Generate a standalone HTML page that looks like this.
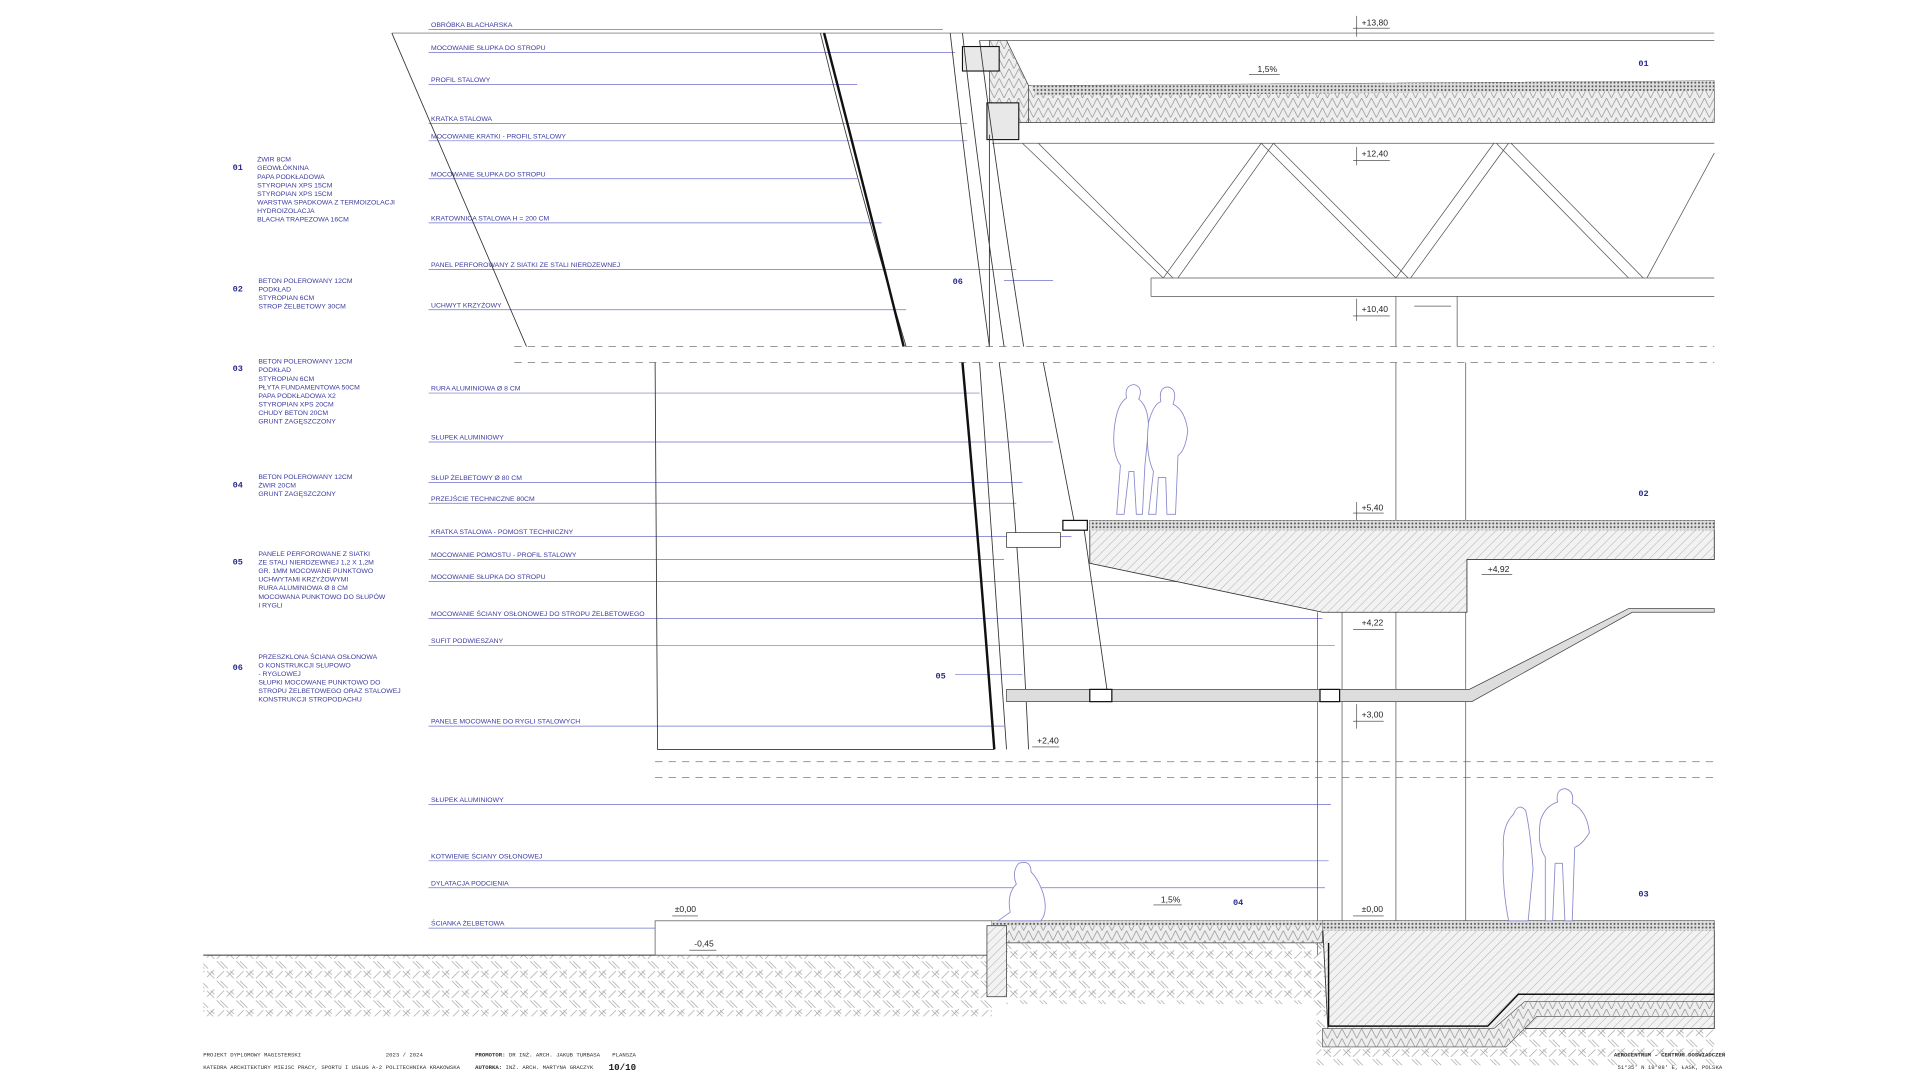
<!DOCTYPE html>
<html><head><meta charset="utf-8"><style>
html,body{margin:0;padding:0;background:#fff;width:1920px;height:1080px;overflow:hidden}
svg{display:block}
.lb{font-family:"Liberation Sans",sans-serif;font-size:5.6px;fill:#3a3aa0}
.num{font-family:"Liberation Mono",monospace;font-size:7px;font-weight:bold;fill:#2a2a90}
.dim{font-family:"Liberation Sans",sans-serif;font-size:7px;fill:#222}
.ft{font-family:"Liberation Mono",monospace;font-size:4.6px;fill:#333}
</style></head><body>
<svg width="1920" height="1080" viewBox="0 0 1568 882" xmlns="http://www.w3.org/2000/svg">
<defs>
<pattern id="hat" width="5" height="5" patternUnits="userSpaceOnUse" patternTransform="rotate(45)"><rect width="5" height="5" fill="#f2f2f2"/><line x1="0" y1="0" x2="0" y2="5" stroke="#888" stroke-width="0.5"/></pattern>
<pattern id="gnd" width="16" height="16" patternUnits="userSpaceOnUse"><path d="M1 1L7 7M4 1L10 7M9 9L15 15M12 9L15 12M9 14L15 8M1 15L7 9" stroke="#999" stroke-width="0.45" fill="none"/></pattern>
<pattern id="ins" width="8" height="8" patternUnits="userSpaceOnUse"><rect width="8" height="8" fill="#eee"/><path d="M0 0L4 8L8 0" stroke="#888" stroke-width="0.5" fill="none"/></pattern>
<pattern id="grv" width="3" height="3" patternUnits="userSpaceOnUse"><rect width="3" height="3" fill="#ddd"/><circle cx="1.5" cy="1.5" r="0.8" fill="#555"/></pattern>
</defs>
<g stroke="#7070c8" stroke-width="0.6" fill="none">
<path d="M350 24H770M350 43H780M350 69H700M350 101H790M350 115H790M350 146H700M350 182H720M350 220H830M350 253H740M350 321H800M350 361H860M350 394H835M350 411H830M350 438H875M350 457H820M350 475H1085M350 505H1080M350 527H1090M350 593H820M350 657H1087M350 703H1085M350 725H1082M350 758H1078"/>
<path d="M820 229H860M780 551H835"/>
</g>
<g class="lb">
<text x="352" y="22">OBRÓBKA BLACHARSKA</text><text x="352" y="41">MOCOWANIE SŁUPKA DO STROPU</text><text x="352" y="67">PROFIL STALOWY</text><text x="352" y="99">KRATKA STALOWA</text><text x="352" y="113">MOCOWANIE KRATKI - PROFIL STALOWY</text><text x="352" y="144">MOCOWANIE SŁUPKA DO STROPU</text><text x="352" y="180">KRATOWNICA STALOWA H = 200 CM</text><text x="352" y="218">PANEL PERFOROWANY Z SIATKI ZE STALI NIERDZEWNEJ</text><text x="352" y="251">UCHWYT KRZYŻOWY</text><text x="352" y="319">RURA ALUMINIOWA Ø 8 CM</text><text x="352" y="359">SŁUPEK ALUMINIOWY</text><text x="352" y="392">SŁUP ŻELBETOWY  Ø 80 CM</text><text x="352" y="409">PRZEJŚCIE TECHNICZNE 80CM</text><text x="352" y="436">KRATKA STALOWA - POMOST TECHNICZNY</text><text x="352" y="455">MOCOWANIE POMOSTU - PROFIL STALOWY</text><text x="352" y="473">MOCOWANIE SŁUPKA DO STROPU</text><text x="352" y="503">MOCOWANIE ŚCIANY OSŁONOWEJ DO STROPU ŻELBETOWEGO</text><text x="352" y="525">SUFIT PODWIESZANY</text><text x="352" y="591">PANELE MOCOWANE DO RYGLI STALOWYCH</text><text x="352" y="655">SŁUPEK ALUMINIOWY</text><text x="352" y="701">KOTWIENIE ŚCIANY OSŁONOWEJ</text><text x="352" y="723">DYLATACJA PODCIENIA</text><text x="352" y="756">ŚCIANKA ŻELBETOWA</text>
</g>
<g class="num"><text x="190" y="139">01</text><text x="190" y="238">02</text><text x="190" y="303">03</text><text x="190" y="398">04</text><text x="190" y="461">05</text><text x="190" y="547">06</text>
<text x="1338" y="54">01</text><text x="1338" y="405">02</text><text x="1338" y="732">03</text><text x="1007" y="739">04</text><text x="764" y="554">05</text><text x="778" y="232">06</text></g>
<g class="lb">
<text x="210" y="132">ŻWIR 8CM</text><text x="210" y="139">GEOWŁÓKNINA</text><text x="210" y="146">PAPA PODKŁADOWA</text><text x="210" y="153">STYROPIAN XPS      15CM</text><text x="210" y="160">STYROPIAN XPS      15CM</text><text x="210" y="167">WARSTWA SPADKOWA Z TERMOIZOLACJI</text><text x="210" y="174">HYDROIZOLACJA</text><text x="210" y="181">BLACHA TRAPEZOWA      16CM</text>
<text x="211" y="231">BETON POLEROWANY      12CM</text><text x="211" y="238">PODKŁAD</text><text x="211" y="245">STYROPIAN      6CM</text><text x="211" y="252">STROP ŻELBETOWY    30CM</text>
<text x="211" y="297">BETON POLEROWANY      12CM</text><text x="211" y="304">PODKŁAD</text><text x="211" y="311">STYROPIAN      6CM</text><text x="211" y="318">PŁYTA FUNDAMENTOWA 50CM</text><text x="211" y="325">PAPA PODKŁADOWA X2</text><text x="211" y="332">STYROPIAN XPS      20CM</text><text x="211" y="339">CHUDY BETON      20CM</text><text x="211" y="346">GRUNT ZAGĘSZCZONY</text>
<text x="211" y="391">BETON POLEROWANY      12CM</text><text x="211" y="398">ŻWIR    20CM</text><text x="211" y="405">GRUNT ZAGĘSZCZONY</text>
<text x="211" y="454">PANELE PERFOROWANE Z SIATKI</text><text x="211" y="461">ZE STALI NIERDZEWNEJ   1,2 X 1,2M</text><text x="211" y="468">GR. 1MM MOCOWANE PUNKTOWO</text><text x="211" y="475">UCHWYTAMI KRZYŻOWYMI</text><text x="211" y="482">RURA ALUMINIOWA Ø 8 CM</text><text x="211" y="489">MOCOWANA PUNKTOWO DO SŁUPÓW</text><text x="211" y="496">I RYGLI</text>
<text x="211" y="538">PRZESZKLONA ŚCIANA OSŁONOWA</text><text x="211" y="545">O KONSTRUKCJI SŁUPOWO</text><text x="211" y="552">- RYGLOWEJ</text><text x="211" y="559">SŁUPKI MOCOWANE PUNKTOWO DO</text><text x="211" y="566">STROPU ŻELBETOWEGO ORAZ STALOWEJ</text><text x="211" y="573">KONSTRUKCJI STROPODACHU</text>
</g>
<g stroke="#999" stroke-width="0.8" stroke-dasharray="6,5"><path d="M420 283H1400M420 296H1400M535 622H1400M535 635H1400"/></g>
<g stroke="#555" stroke-width="0.6" fill="none">
<path d="M320 27H1400M800 33H1400"/>
<path d="M810 100H1400M810 117H1400M940 227H1400M940 242H1400M940 227V242"/>
<path d="M835 117L950 227M848 117L958 227M1030 117L950 227M1040 117L962 227M1030 117L1140 227M1040 117L1150 227M1220 117L1140 227M1232 117L1152 227M1222 117L1330 227M1234 117L1342 227M1400 125L1345 227"/>
</g>
<path d="M840 70L1400 66V100H840Z" fill="url(#ins)" stroke="#444" stroke-width="0.5"/>
<path d="M842 70L1400 66V74L846 78Z" fill="url(#grv)"/>
<path d="M808 33H822L840 70V100H808Z" fill="url(#ins)" stroke="#444" stroke-width="0.6"/>
<rect x="786" y="38" width="30" height="20" fill="#e8e8e8" stroke="#111" stroke-width="0.9"/>
<rect x="806" y="84" width="26" height="30" fill="#e8e8e8" stroke="#111" stroke-width="0.9"/>
<g stroke="#333" stroke-width="0.7" fill="none">
<path d="M320 27L430 283M670 27Q700 150 740 283M776 27Q790 150 808 283M786 27Q800 150 820 283M800 33Q815 150 836 283M808 110V283"/>
</g>
<path d="M673 27Q705 150 738 283" stroke="#111" stroke-width="2" fill="none"/>
<g stroke="#333" stroke-width="0.7" fill="none">
<path d="M535 296L537 612H812M800 296L822 612M816 296Q830 400 840 612M852 296L878 430M885 430L905 570"/>
</g>
<path d="M786 296Q800 450 812 612" stroke="#111" stroke-width="2" fill="none"/>
<g stroke="#555" stroke-width="0.6" fill="none">
<path d="M1140 242V283M1190 242V283M1155 250H1185M1076 500V780M1096 500V780M1140 296V780M1197 296V780M1140 457V622M1197 457V622"/>
</g>
<path d="M890 425H1400V457H1198V500H1080L890 460Z" fill="url(#hat)" stroke="#333" stroke-width="0.7"/>
<path d="M890 425H1400V433H890Z" fill="url(#grv)"/>
<rect x="868" y="425" width="20" height="8" fill="#fff" stroke="#111"/>
<rect x="822" y="435" width="44" height="12" fill="#fff" stroke="#333" stroke-width="0.6"/>
<path d="M822 563H1200L1330 497H1400V500H1333L1202 573H822Z" fill="#ddd" stroke="#444" stroke-width="0.6"/>
<rect x="890" y="563" width="18" height="10" fill="#fff" stroke="#111"/>
<rect x="1078" y="563" width="16" height="10" fill="#fff" stroke="#111"/>
<path d="M166 780H810V830H166Z" fill="url(#gnd)"/>
<path d="M166 780H810" stroke="#333" stroke-width="0.8"/>
<rect x="535" y="752" width="275" height="28" fill="#fff" stroke="#555" stroke-width="0.6"/>
<rect x="810" y="752" width="270" height="18" fill="url(#ins)" stroke="#444" stroke-width="0.6"/>
<rect x="810" y="752" width="270" height="4" fill="url(#grv)"/>
<rect x="806" y="756" width="16" height="58" fill="url(#hat)" stroke="#333" stroke-width="0.6"/>
<rect x="822" y="770" width="258" height="50" fill="url(#gnd)"/>
<path d="M1075 770V870H1400V780Z" fill="url(#gnd)"/>
<path d="M1080 752H1400V840H1240L1220 852H1085Z" fill="url(#hat)" stroke="#333" stroke-width="0.7"/>
<path d="M1080 752H1400V760H1080Z" fill="url(#grv)"/>
<path d="M1085 770V838H1215L1240 812H1400" stroke="#111" stroke-width="1.2" fill="none"/>
<path d="M1080 840H1220L1245 818H1400V830H1255L1230 855H1080Z" fill="url(#ins)" stroke="#444" stroke-width="0.5"/>
<g stroke="#8888cc" stroke-width="0.7" fill="#fff">
<path d="M912 420L915 380Q908 370 910 350Q912 330 920 325Q918 315 926 314Q934 316 930 326Q938 332 938 350L935 380L933 420L928 420L926 385L922 385L918 420Z"/>
<path d="M938 420L942 385Q935 370 938 345Q942 330 948 328Q946 316 954 316Q962 318 958 330Q968 335 970 352Q968 368 962 372L960 420L953 420L952 390L946 390L944 420Z"/>
<path d="M815 752L825 745Q822 730 830 722Q826 712 832 705Q842 702 842 712Q848 718 852 730Q856 745 850 752Z"/>
<path d="M1232 752Q1226 720 1228 695Q1226 675 1236 665Q1240 655 1246 662Q1250 680 1252 710L1248 752Z"/>
<path d="M1262 752L1262 700Q1255 690 1258 670Q1262 658 1272 655Q1270 645 1278 644Q1286 646 1284 656Q1296 662 1298 680Q1292 690 1286 692L1284 752L1278 752L1276 705L1270 705L1268 752Z"/>
</g>
<g class="dim"><text x="1112" y="21">+13,80</text><text x="1112" y="128">+12,40</text><text x="1112" y="255">+10,40</text><text x="1112" y="417">+5,40</text><text x="1215" y="467">+4,92</text><text x="1112" y="511">+4,22</text><text x="1112" y="586">+3,00</text><text x="847" y="607">+2,40</text><text x="551" y="745">±0,00</text><text x="567" y="773">-0,45</text><text x="1112" y="745">±0,00</text><text x="1027" y="59">1,5%</text><text x="948" y="737">1,5%</text></g>
<g stroke="#333" stroke-width="0.5" fill="none"><path d="M1105 23H1135M1108 13V30M1105 131H1135M1108 120V135M1105 258H1135M1108 244V262M1105 419H1130M1108 410V425M1105 514H1130M1105 589H1130M1108 575V595M843 610H865M1105 748H1130M549 748H570M563 776H585M1210 469H1235M1020 61H1045M942 739H965"/></g>
<g class="ft"><text x="166" y="863">PROJEKT DYPLOMOWY MAGISTERSKI</text><text x="166" y="873">KATEDRA ARCHITEKTURY MIEJSC PRACY, SPORTU I USŁUG A-2</text><text x="315" y="863">2023 / 2024</text><text x="315" y="873">POLITECHNIKA KRAKOWSKA</text><text x="388" y="863"><tspan font-weight="bold">PROMOTOR:</tspan> DR INŻ. ARCH. JAKUB TURBASA</text><text x="388" y="873"><tspan font-weight="bold">AUTORKA:</tspan> INŻ. ARCH. MARTYNA GRACZYK</text><text x="500" y="863">PLANSZA</text><text x="1318" y="863" font-weight="bold">AEROCENTRUM - CENTRUM DOŚWIADCZEŃ</text><text x="1321" y="873">51°35' N 19°08' E, ŁASK, POLSKA</text></g>
<text x="497" y="874" font-family="Liberation Mono,monospace" font-size="7.5" font-weight="bold" fill="#222">10/10</text>
</svg>
</body></html>
